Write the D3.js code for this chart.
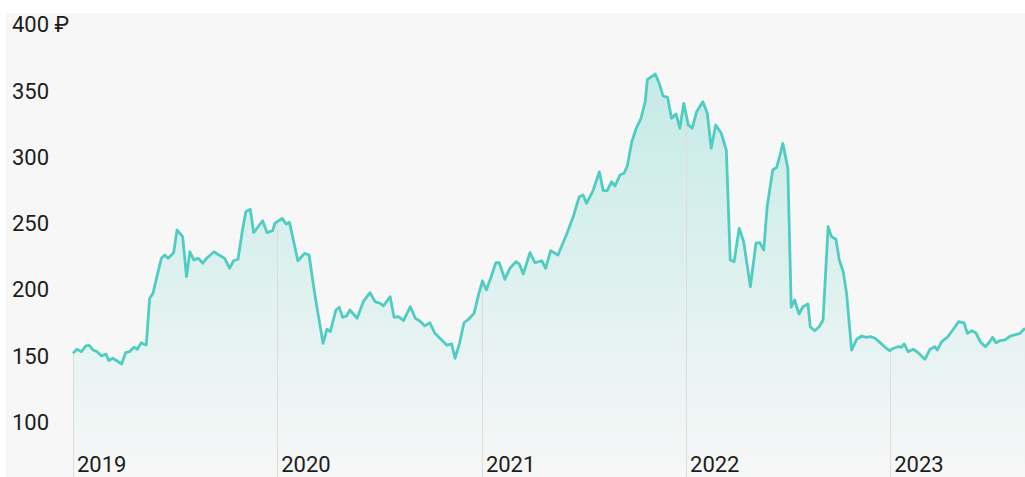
<!DOCTYPE html>
<html lang="en">
<head>
  <meta charset="UTF-8">
  <title>Price chart</title>
  <script src="https://cdn.jsdelivr.net/npm/d3@7"></script>
<style>
  body { margin: 0; background: #fff; }
  text { font-family: Roboto, "Noto Sans", "DejaVu Sans", sans-serif; fill: #1c1c1c; }
</style>
</head>

<body>
  <script>
    // dates and closing prices
    var dates = [
      '2019-01-01','2019-01-08','2019-01-16','2019-01-24','2019-01-30','2019-02-06','2019-02-13','2019-02-21',
      '2019-03-01','2019-03-06','2019-03-13','2019-03-21','2019-03-29','2019-04-05','2019-04-12','2019-04-20',
      '2019-04-26','2019-05-03','2019-05-07','2019-05-12','2019-05-18','2019-05-24','2019-05-31','2019-06-08',
      '2019-06-14','2019-06-20','2019-06-30','2019-07-06','2019-07-16','2019-07-23','2019-07-29','2019-08-05',
      '2019-08-13','2019-08-21','2019-08-28','2019-09-10','2019-09-19','2019-09-29','2019-10-08','2019-10-15',
      '2019-10-23','2019-10-31','2019-11-06','2019-11-14','2019-11-20','2019-12-06','2019-12-14','2019-12-24',
      '2019-12-28','2020-01-10','2020-01-17','2020-01-23','2020-02-07','2020-02-19','2020-02-27','2020-03-08',
      '2020-03-23','2020-03-30','2020-04-05','2020-04-15','2020-04-21','2020-04-27','2020-05-04','2020-05-10',
      '2020-05-23','2020-06-03','2020-06-15','2020-06-24','2020-07-03','2020-07-09','2020-07-21','2020-07-28',
      '2020-08-05','2020-08-14','2020-08-26','2020-09-04','2020-09-12','2020-09-21','2020-09-30','2020-10-09',
      '2020-10-18','2020-10-30','2020-11-08','2020-11-14','2020-11-22','2020-11-30','2020-12-08','2020-12-18',
      '2020-12-26','2021-01-02','2021-01-09','2021-01-16','2021-01-26','2021-02-01','2021-02-11','2021-02-20',
      '2021-03-03','2021-03-09','2021-03-16','2021-03-28','2021-04-06','2021-04-18','2021-04-25','2021-05-04',
      '2021-05-17','2021-06-01','2021-06-13','2021-06-24','2021-07-01','2021-07-07','2021-07-18','2021-07-30',
      '2021-08-06','2021-08-13','2021-08-21','2021-08-27','2021-09-05','2021-09-12','2021-09-18','2021-09-26',
      '2021-10-04','2021-10-12','2021-10-20','2021-10-24','2021-11-07','2021-11-14','2021-11-21','2021-11-29',
      '2021-12-06','2021-12-14','2021-12-21','2021-12-28','2022-01-05','2022-01-12','2022-01-20','2022-01-31',
      '2022-02-08','2022-02-15','2022-02-23','2022-03-05','2022-03-14','2022-03-21','2022-03-28','2022-04-06',
      '2022-04-14','2022-04-26','2022-05-06','2022-05-13','2022-05-20','2022-05-26','2022-06-05','2022-06-12',
      '2022-06-18','2022-06-23','2022-07-02','2022-07-08','2022-07-14','2022-07-22','2022-07-29','2022-08-07',
      '2022-08-11','2022-08-19','2022-08-27','2022-09-03','2022-09-12','2022-09-18','2022-09-26','2022-10-02',
      '2022-10-09','2022-10-15','2022-10-24','2022-11-02','2022-11-11','2022-11-19','2022-11-27','2022-12-05',
      '2022-12-14','2022-12-23','2022-12-31','2023-01-06','2023-01-15','2023-01-21','2023-01-26','2023-02-02',
      '2023-02-11','2023-02-20','2023-03-04','2023-03-13','2023-03-22','2023-03-26','2023-04-03','2023-04-13',
      '2023-04-24','2023-05-03','2023-05-13','2023-05-19','2023-05-27','2023-06-03','2023-06-11','2023-06-20',
      '2023-06-28','2023-07-03','2023-07-09','2023-07-16','2023-07-25','2023-08-04','2023-08-15','2023-08-21',
      '2023-08-30'
    ];
    var prices = [
      151.9,154.9,153.1,157.4,157.9,154.3,153.1,149.8,
      151.3,146.3,148.1,146.0,143.8,152.3,153.1,156.4,
      154.9,159.9,158.9,158.1,193.4,197.1,209.7,223.6,
      226.0,223.6,227.8,244.9,239.9,209.7,228.5,222.3,
      223.6,219.8,223.6,228.5,226.0,223.6,216.0,221.7,
      222.8,244.9,258.7,260.5,242.9,251.9,242.9,244.4,
      250.0,253.7,249.4,250.7,221.7,227.3,226.0,197.1,
      159.4,170.0,168.2,184.5,186.6,179.0,180.0,184.5,
      178.3,190.8,197.6,190.8,189.6,187.6,194.6,179.0,
      179.5,176.5,187.0,178.3,176.2,172.5,174.9,166.9,
      163.2,158.1,158.9,148.1,159.4,174.9,177.5,182.0,
      195.9,206.6,199.6,207.7,220.2,220.2,207.7,216.0,
      221.0,219.2,211.7,227.8,220.2,221.7,216.0,229.3,
      226.0,241.1,254.5,270.0,271.3,265.1,273.8,288.9,
      274.6,274.6,281.4,278.1,286.4,287.7,293.2,311.5,
      321.7,328.5,341.7,358.6,362.6,355.6,346.0,345.1,
      329.2,332.5,321.7,340.5,324.2,321.7,334.2,341.7,
      333.0,306.6,324.2,317.9,305.3,222.3,221.0,246.2,
      236.1,202.1,234.9,235.3,229.8,262.5,290.2,292.2,
      301.5,310.3,291.5,186.6,192.1,181.5,187.0,189.1,
      171.9,168.9,171.9,177.0,247.4,239.9,237.9,222.3,
      213.4,197.1,154.3,162.4,164.9,163.9,164.4,163.2,
      159.9,156.4,153.8,155.6,156.8,156.4,158.9,153.1,
      154.9,152.3,147.3,154.9,156.8,154.3,160.6,163.9,
      170.0,175.7,174.9,166.9,168.9,167.4,160.6,156.8,
      160.6,163.9,159.9,161.4,161.9,164.9,166.2,166.9,
      170.7
    ];
    var yTicks = [400, 350, 300, 250, 200, 150, 100];
    var yearTicks = ['2019-01-01', '2020-01-01', '2021-01-01', '2022-01-01', '2023-01-01'];

    var w = 1025;
    var h = 477;
    var parse = d3.timeParse('%Y-%m-%d');
    var data = dates.map(function(d, i) {
      return { date: parse(d), value: prices[i] };
    });

    var x = d3.scaleTime()
      .domain(d3.extent(data, d => d.date))
      .range([73, 1025]);
    var y = d3.scaleLinear()
      .domain([100, 400])
      .range([422, 24.5]);
    var bottom = 477;

    var svg = d3.select('body')
      .append('svg')
      .attr('width', w)
      .attr('height', h);

    svg.append('rect')
      .attr('x', 6).attr('y', 13)
      .attr('width', w - 6).attr('height', h - 13)
      .attr('fill', '#f7f7f7');

    var grad = svg.append('defs').append('linearGradient')
      .attr('id', 'fillGrad')
      .attr('gradientUnits', 'userSpaceOnUse')
      .attr('x1', 0).attr('x2', 0)
      .attr('y1', y(365)).attr('y2', bottom);
    grad.append('stop').attr('offset', '0%').attr('stop-color', '#4fcdc1').attr('stop-opacity', 0.3);
    grad.append('stop').attr('offset', '100%').attr('stop-color', '#4fcdc1').attr('stop-opacity', 0.0);

    // year grid lines, from the price line down to the bottom
    var bisect = d3.bisector(d => d.date).left;
    function valueAt(t) {
      var i = bisect(data, t);
      if (i <= 0) return data[0].value;
      if (i >= data.length) return data[data.length - 1].value;
      var a = data[i - 1], b = data[i];
      var k = (t - a.date) / (b.date - a.date);
      return a.value + (b.value - a.value) * k;
    }

    svg.append('path')
      .datum(data)
      .attr('fill', 'url(#fillGrad)')
      .attr('d', d3.area()
        .x(d => x(d.date))
        .y0(bottom)
        .y1(d => y(d.value)));

    svg.selectAll('line.year')
      .data(yearTicks.map(parse))
      .enter()
      .append('line')
      .attr('class', 'year')
      .attr('x1', d => Math.round(x(d)) + 0.5)
      .attr('x2', d => Math.round(x(d)) + 0.5)
      .attr('y1', d => y(valueAt(d)))
      .attr('y2', bottom)
      .attr('stroke', '#dcdcdc')
      .attr('stroke-width', 1);

    svg.append('path')
      .datum(data)
      .attr('fill', 'none')
      .attr('stroke', '#4fcdc1')
      .attr('stroke-width', 2.8)
      .attr('stroke-linejoin', 'round')
      .attr('d', d3.line()
        .x(d => x(d.date))
        .y(d => y(d.value)));

    svg.selectAll('text.ylab')
      .data(yTicks)
      .enter()
      .append('text')
      .attr('class', 'ylab')
      .attr('x', 12)
      .attr('y', d => y(d))
      .attr('dy', '0.36em')
      .attr('font-size', '22px')
      .text(d => d === 400 ? d + ' \u20BD' : d);

    svg.selectAll('text.xlab')
      .data(yearTicks.map(parse))
      .enter()
      .append('text')
      .attr('class', 'xlab')
      .attr('x', d => x(d) + 4)
      .attr('y', 472)
      .attr('font-size', '22px')
      .text(d => d3.timeFormat('%Y')(d));
  </script>
</body>
</html>
